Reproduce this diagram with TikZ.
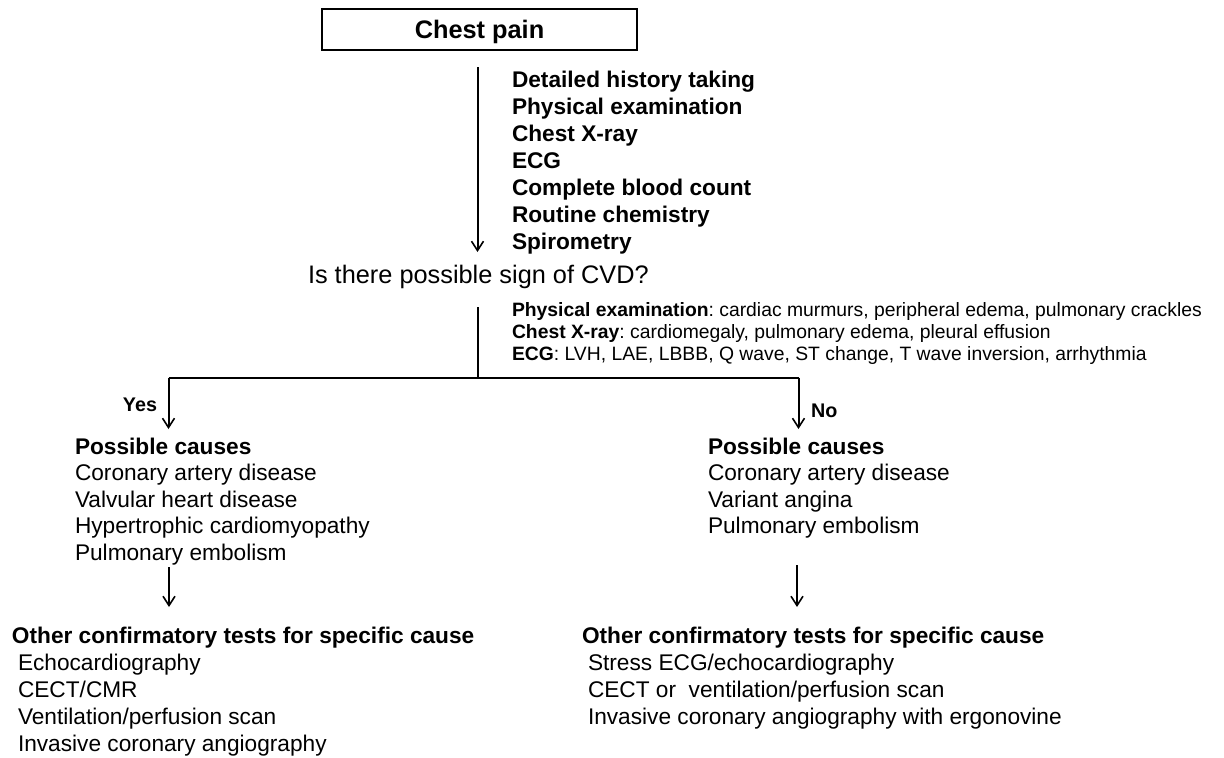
\documentclass[tikz,border=0pt]{standalone}
\usepackage{fontspec}
\setmainfont{Liberation Sans}
\usetikzlibrary{arrows.meta}
\begin{document}
\frenchspacing
\begin{tikzpicture}[x=0.75pt,y=-0.75pt,
  txt/.style={anchor=base west,inner sep=0pt,outer sep=0pt},
  big/.style={txt,font=\fontsize{17pt}{20pt}\selectfont\bfseries},
  lst/.style={txt,font=\fontsize{17pt}{20pt}\selectfont},
  lstb/.style={txt,font=\fontsize{17pt}{20pt}\selectfont\bfseries},
  sml/.style={txt,font=\fontsize{14.5pt}{16pt}\selectfont},
  lab/.style={inner sep=0pt,outer sep=0pt,font=\fontsize{14.8pt}{16pt}\selectfont\bfseries},
  conn/.style={line width=1.5pt},
  arr/.style={conn,-{Straight Barb[length=7pt,width=9pt,line width=1.2pt]}}]
\useasboundingbox (0,0) rectangle (1224,757);
% title box
\node[draw,line width=1.1pt,minimum width=236.25pt,minimum height=30.75pt,inner sep=0pt] (cp) at (479.5,29.5) {};
\node[inner sep=0pt,font=\fontsize{19pt}{20pt}\selectfont\bfseries,anchor=base] (cpt) at (479.5,38) {Chest pain};
% first list
\node[big] (l1) at (512,87) {Detailed history taking};
\node[big] (l2) at (512,114) {Physical examination};
\node[big] (l3) at (512,141) {Chest X-ray};
\node[big] (l4) at (512,168) {ECG};
\node[big] (l5) at (512,195) {Complete blood count};
\node[big] (l6) at (512,222) {Routine chemistry};
\node[big] (l7) at (512,249) {Spirometry};
\coordinate (a1s) at (477.5,67);
\coordinate (a1e) at (477.5,252);
\draw[arr] (a1s) -- (a1e);
% question
\node[txt,font=\fontsize{19pt}{20pt}\selectfont] (q) at (308,283) {Is there possible sign of CVD?};
% signs
\node[sml] (s1) at (512,316.5) {\textbf{Physical examination}: cardiac murmurs, peripheral edema, pulmonary crackles};
\node[sml] (s2) at (512,338.5) {\textbf{Chest X-ray}: cardiomegaly, pulmonary edema, pleural effusion};
\node[sml] (s3) at (512,360.5) {\textbf{ECG}: LVH, LAE, LBBB, Q wave, ST change, T wave inversion, arrhythmia};
\coordinate (b0) at (478,307);
\coordinate (bm) at (478,377.5);
\coordinate (bl) at (168.5,377.5);
\coordinate (br) at (798.5,377.5);
\coordinate (ble) at (168.5,429);
\coordinate (bre) at (798.5,429);
\draw[conn] (b0) -- (bm);
\draw[conn] (bl) -- (br);
\draw[arr] (bl) -- (ble);
\draw[arr] (br) -- (bre);
\node[lab,anchor=base east] (yes) at (157,411) {Yes};
\node[lab,anchor=base west] (no) at (811,417) {No};
% possible causes left
\node[lstb] (pl0) at (75,454) {Possible causes};
\node[lst] (pl1) at (75,480.6) {Coronary artery disease};
\node[lst] (pl2) at (75,507.2) {Valvular heart disease};
\node[lst] (pl3) at (75,533.8) {Hypertrophic cardiomyopathy};
\node[lst] (pl4) at (75,560.4) {Pulmonary embolism};
% possible causes right
\node[lstb] (pr0) at (708,454) {Possible causes};
\node[lst] (pr1) at (708,480.6) {Coronary artery disease};
\node[lst] (pr2) at (708,507.2) {Variant angina};
\node[lst] (pr3) at (708,533.8) {Pulmonary embolism};
% arrows
\coordinate (cls) at (169,567);
\coordinate (cle) at (169,607);
\coordinate (crs) at (797,565);
\coordinate (cre) at (797,607);
\draw[arr] (cls) -- (cle);
\draw[arr] (crs) -- (cre);
% confirm left
\node[lstb] (ol0) at (12,643) {Other confirmatory tests for specific cause};
\node[lst] (ol1) at (18,670) {Echocardiography};
\node[lst] (ol2) at (18,697) {CECT/CMR};
\node[lst] (ol3) at (18,724) {Ventilation/perfusion scan};
\node[lst] (ol4) at (18,751) {Invasive coronary angiography};
% confirm right
\node[lstb] (or0) at (582,643) {Other confirmatory tests for specific cause};
\node[lst] (or1) at (588,670) {Stress ECG/echocardiography};
\node[lst] (or2) at (588,697) {CECT or\ \ ventilation/perfusion scan};
\node[lst] (or3) at (588,724) {Invasive coronary angiography with ergonovine};
\end{tikzpicture}
\end{document}
